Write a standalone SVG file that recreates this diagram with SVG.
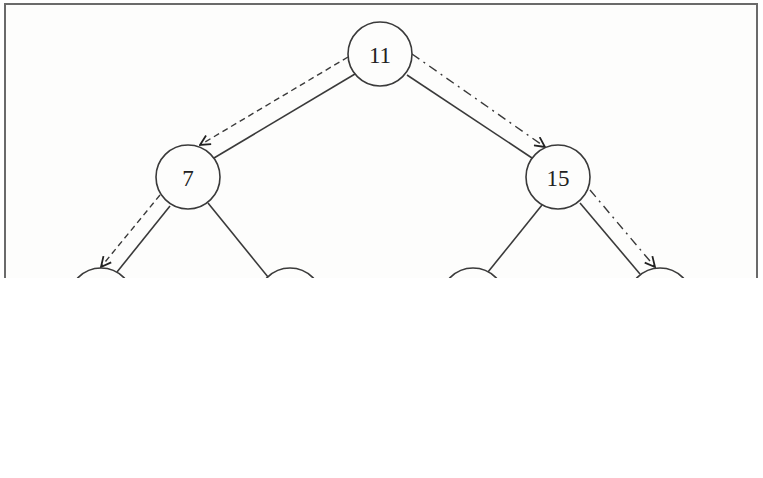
<svg xmlns="http://www.w3.org/2000/svg" width="763" height="478" viewBox="0 0 763 478">
<style>
.node{fill:#fdfdfc;stroke:#3a3a3a;stroke-width:1.6}
.lbl{font-family:"Liberation Serif","Times New Roman",serif;font-size:23px;fill:#222;text-anchor:middle;dominant-baseline:central}
.edge{stroke:#3a3a3a;stroke-width:1.6;fill:none}
.dash{stroke:#3a3a3a;stroke-width:1.4;fill:none;stroke-dasharray:6 4}
.dashdot{stroke:#3a3a3a;stroke-width:1.4;fill:none;stroke-dasharray:9 5 2 5}
</style>
<defs>
<clipPath id="cut"><rect x="0" y="0" width="763" height="278"/></clipPath>
<marker id="arr" viewBox="0 0 12 12" refX="11" refY="6" markerWidth="12" markerHeight="12" markerUnits="userSpaceOnUse" orient="auto">
<path d="M1,1 L11,6 L1,11" fill="none" stroke="#222" stroke-width="1.8"/>
</marker>
</defs>
<rect width="763" height="478" fill="#ffffff"/>
<g clip-path="url(#cut)">
<rect x="5" y="4" width="752" height="300" fill="#fdfdfc" stroke="#6a6a6a" stroke-width="2"/>
<g id="connectors">
<line class="edge" x1="355" y1="74" x2="214" y2="158"/>
<line class="edge" x1="407" y1="75" x2="532" y2="158"/>
<line class="edge" x1="170" y1="206" x2="117" y2="272"/>
<line class="edge" x1="208" y1="203" x2="268" y2="277"/>
<line class="edge" x1="542" y1="205" x2="488" y2="272"/>
<line class="edge" x1="580" y1="203" x2="640" y2="274"/>
<line class="dash" x1="348" y1="57" x2="200" y2="145" marker-end="url(#arr)"/>
<line class="dashdot" x1="412" y1="54" x2="545" y2="147" marker-end="url(#arr)"/>
<line class="dash" x1="160" y1="195" x2="101" y2="267" marker-end="url(#arr)"/>
<line class="dashdot" x1="590" y1="190" x2="655" y2="267" marker-end="url(#arr)"/>
</g>
<g id="n11"><ellipse class="node" cx="380" cy="54" rx="32" ry="32"/><text class="lbl" x="380" y="55">11</text></g>
<g id="n7"><ellipse class="node" cx="188" cy="177" rx="32" ry="32"/><text class="lbl" x="188" y="178">7</text></g>
<g id="n15"><ellipse class="node" cx="558" cy="177" rx="32" ry="32"/><text class="lbl" x="558" y="178">15</text></g>
<g id="n_ll"><ellipse class="node" cx="101" cy="300" rx="32" ry="32"/></g>
<g id="n_lr"><ellipse class="node" cx="290" cy="300" rx="32" ry="32"/></g>
<g id="n_rl"><ellipse class="node" cx="473" cy="300" rx="32" ry="32"/></g>
<g id="n_rr"><ellipse class="node" cx="660" cy="300" rx="32" ry="32"/></g>
</g>
</svg>
